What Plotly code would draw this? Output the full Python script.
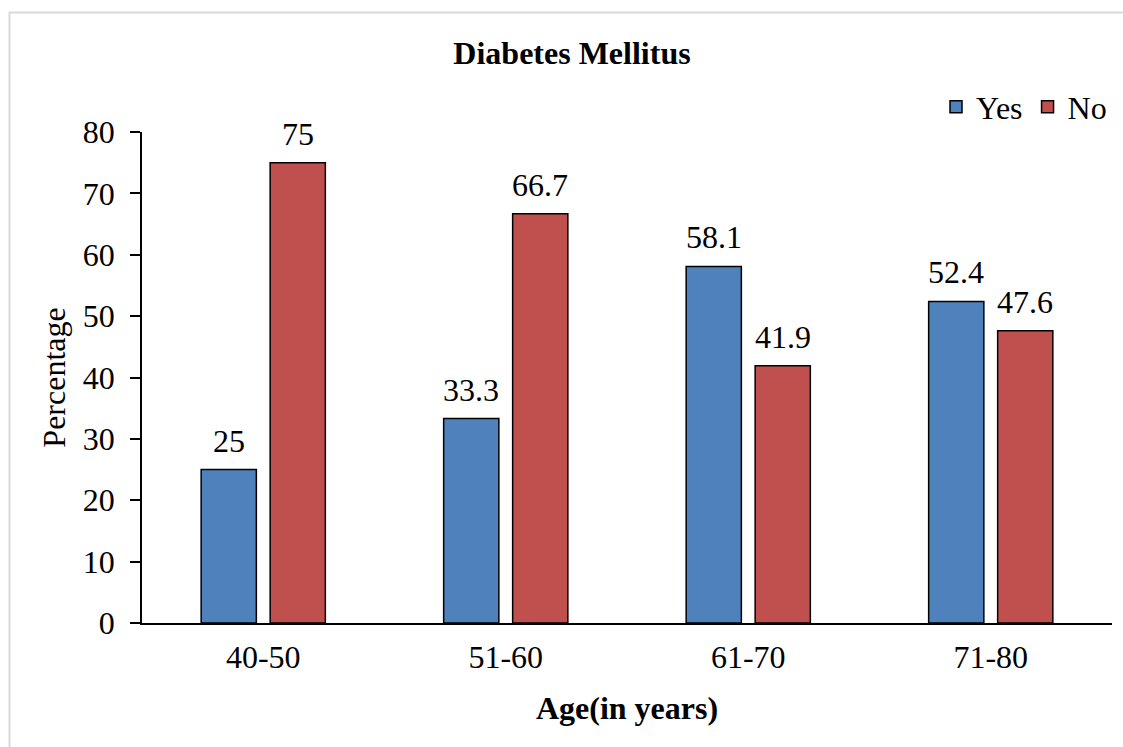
import plotly.graph_objects as go

# Share of patients with diabetes mellitus by age group
age_groups = ["40-50", "51-60", "61-70", "71-80"]
yes_pct = [25, 33.3, 58.1, 52.4]
no_pct = [75, 66.7, 41.9, 47.6]
y_ticks = [0, 10, 20, 30, 40, 50, 60, 70, 80]

FONT = "Liberation Serif, Times New Roman, serif"
FS = 32
W, H = 1123, 747
M_L, M_R, M_T, M_B = 142, 11, 132, 124
BARGAP, GROUPGAP = 0.431, 0.2

fig = go.Figure()
fig.add_trace(go.Bar(
    name="Yes", x=age_groups, y=yes_pct,
    marker=dict(color="#4F81BD", line=dict(color="black", width=1.5)),
))
fig.add_trace(go.Bar(
    name="No", x=age_groups, y=no_pct,
    marker=dict(color="#C0504D", line=dict(color="black", width=1.5)),
))

# value labels above each bar, shifted onto the matching bar of the group
plot_w = W - M_L - M_R
cat_px = plot_w / len(age_groups)
half_slot = (1 - BARGAP) * cat_px / 4
annotations = []
for vals, shift in ((yes_pct, -half_slot), (no_pct, half_slot)):
    for cat, v in zip(age_groups, vals):
        annotations.append(dict(
            x=cat, y=v, xref="x", yref="y", text=f"{v:g}",
            showarrow=False, xanchor="center", yanchor="bottom",
            xshift=shift, yshift=9,
            font=dict(family=FONT, size=FS, color="black"),
        ))

fig.update_layout(
    width=W, height=H,
    margin=dict(l=M_L, r=M_R, t=M_T, b=M_B, autoexpand=False),
    paper_bgcolor="white", plot_bgcolor="white",
    font=dict(family=FONT, size=FS, color="black"),
    barmode="group", bargap=BARGAP, bargroupgap=GROUPGAP,
    title=dict(
        text="<b>Diabetes Mellitus</b>",
        x=(572 - M_L) / plot_w, xref="paper", xanchor="center",
        y=1 - 53 / H, yref="container", yanchor="middle",
        font=dict(family=FONT, size=FS, color="black"),
    ),
    legend=dict(
        orientation="h", x=1.0, xanchor="right", y=1.051, yanchor="middle",
        font=dict(family=FONT, size=FS, color="black"),
        bgcolor="rgba(0,0,0,0)", traceorder="normal",
    ),
    xaxis=dict(
        title=dict(text="<b>Age(in years)</b>", standoff=22,
                   font=dict(family=FONT, size=FS)),
        showline=True, linecolor="black", linewidth=1.5,
        ticks="", showgrid=False, zeroline=False,
        tickfont=dict(family=FONT, size=FS),
        ticklabelstandoff=5,
    ),
    yaxis=dict(
        title=dict(text="Percentage", standoff=8,
                   font=dict(family=FONT, size=FS)),
        range=[0, 80], tickvals=y_ticks, ticktext=[str(t) for t in y_ticks],
        showline=True, linecolor="black", linewidth=1.5,
        ticks="outside", ticklen=10, tickwidth=1.5, tickcolor="black",
        showgrid=False, zeroline=False,
        tickfont=dict(family=FONT, size=FS),
        ticklabelstandoff=9,
    ),
    annotations=annotations,
    shapes=[dict(
        type="rect", xref="paper", yref="paper",
        x0=(9.5 - M_L) / plot_w, x1=(W + 20 - M_L) / plot_w,
        y0=-(M_B + 20) / (H - M_T - M_B), y1=(H - M_B - 12.5) / (H - M_T - M_B),
        line=dict(color="#d9d9d9", width=2), layer="below",
    )],
)

fig.write_html("out.html")
